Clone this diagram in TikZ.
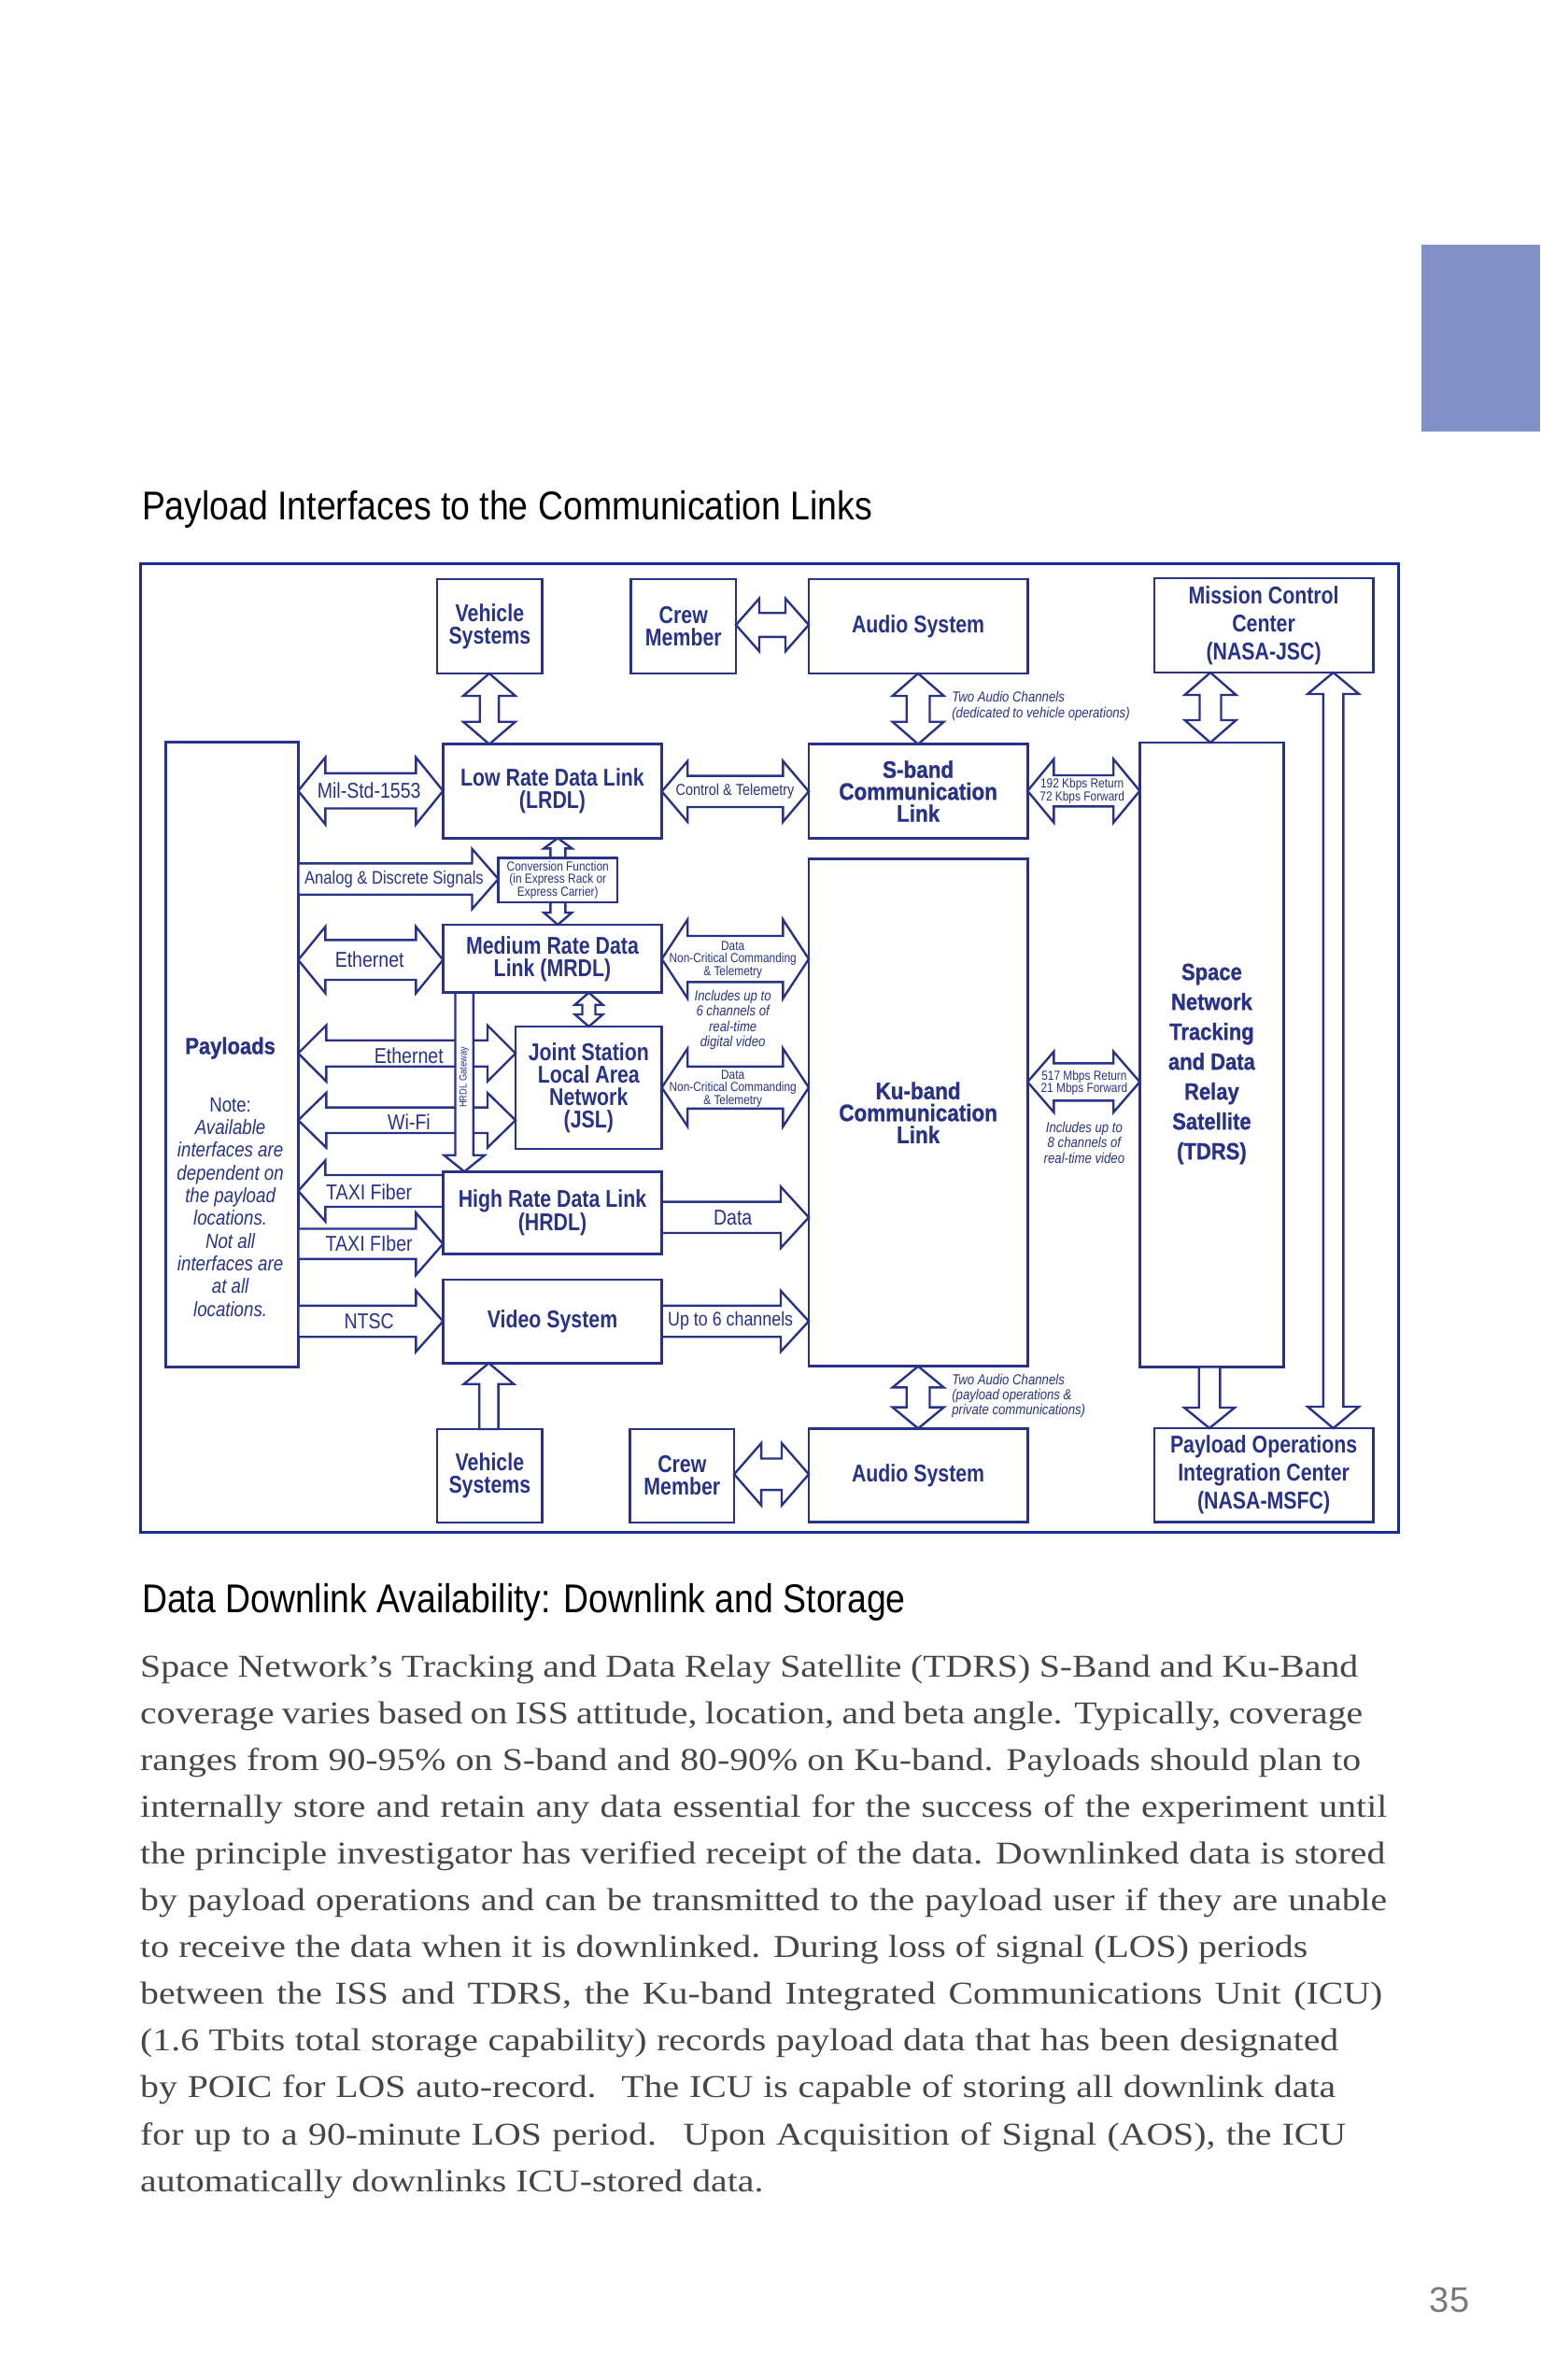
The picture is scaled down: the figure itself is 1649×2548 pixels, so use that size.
\documentclass[tikz,border=0pt]{standalone}
\usepackage{fontspec}
\usetikzlibrary{calc}
\setmainfont{Liberation Serif}
\newfontfamily\cnd[FakeStretch=0.85]{Liberation Sans}
\newfontfamily\cndb[FakeStretch=0.82]{Liberation Sans}
\newfontfamily\cndh[FakeStretch=0.88,FakeBold=1]{Liberation Sans}
\newfontfamily\hfont[FakeStretch=0.87]{Liberation Sans}
\newfontfamily\pfont[FakeStretch=1.17]{Liberation Serif}
\newfontfamily\pnfont{Liberation Sans}
\definecolor{navy}{RGB}{40,50,135}
\definecolor{framec}{RGB}{25,45,150}
\definecolor{purp}{RGB}{129,144,198}
\definecolor{ptext}{RGB}{70,70,70}
\definecolor{pnumc}{RGB}{120,120,120}
\tikzset{
  box/.style={draw=navy, line width=2.6pt, inner sep=0pt, outer sep=0pt, text=navy, align=center},
  barrow/.style={draw=navy, line width=2.4pt, fill=white, line join=miter},
  lbl/.style={text=navy, inner sep=0pt, align=center},
  bxf/.style={font=\cndb\bfseries\fontsize{26}{24}\selectfont},
  bxw/.style={font=\cndb\bfseries\fontsize{26}{30}\selectfont},
  hvf/.style={font=\cndh\bfseries\fontsize{25.5}{23.5}\selectfont},
  arl/.style={font=\cnd\fontsize{23}{24}\selectfont},
  tiny/.style={font=\cnd\fontsize{14}{13.5}\selectfont},
  itn/.style={font=\cnd\itshape\fontsize{15.5}{16.3}\selectfont},
  para/.style={anchor=base west, inner sep=0pt, text=ptext, font=\pfont\fontsize{34}{34}\selectfont}
}
% horizontal double arrow: left anchor, right anchor, y, shaft half, head half, head length
\newcommand{\HD}[6]{\draw[barrow] let \p1=(#1), \p2=(#2) in
 (\x1,-#3pt) -- (\x1+#6pt,-#3pt+#5pt) -- (\x1+#6pt,-#3pt+#4pt) -- (\x2-#6pt,-#3pt+#4pt) -- (\x2-#6pt,-#3pt+#5pt) -- (\x2,-#3pt) -- (\x2-#6pt,-#3pt-#5pt) -- (\x2-#6pt,-#3pt-#4pt) -- (\x1+#6pt,-#3pt-#4pt) -- (\x1+#6pt,-#3pt-#5pt) -- cycle;}
\newcommand{\HR}[6]{\draw[barrow] let \p1=(#1), \p2=(#2) in
 (\x1,-#3pt+#4pt) -- (\x2-#6pt,-#3pt+#4pt) -- (\x2-#6pt,-#3pt+#5pt) -- (\x2,-#3pt) -- (\x2-#6pt,-#3pt-#5pt) -- (\x2-#6pt,-#3pt-#4pt) -- (\x1,-#3pt-#4pt) -- cycle;}
\newcommand{\HL}[6]{\draw[barrow] let \p1=(#1), \p2=(#2) in
 (\x2,-#3pt+#4pt) -- (\x1+#6pt,-#3pt+#4pt) -- (\x1+#6pt,-#3pt+#5pt) -- (\x1,-#3pt) -- (\x1+#6pt,-#3pt-#5pt) -- (\x1+#6pt,-#3pt-#4pt) -- (\x2,-#3pt-#4pt) -- cycle;}
% vertical: top anchor, bottom anchor, x, shaft half, head half, head length
\newcommand{\VD}[6]{\draw[barrow] let \p1=(#1), \p2=(#2) in
 (#3pt,\y1) -- (#3pt+#5pt,\y1-#6pt) -- (#3pt+#4pt,\y1-#6pt) -- (#3pt+#4pt,\y2+#6pt) -- (#3pt+#5pt,\y2+#6pt) -- (#3pt,\y2) -- (#3pt-#5pt,\y2+#6pt) -- (#3pt-#4pt,\y2+#6pt) -- (#3pt-#4pt,\y1-#6pt) -- (#3pt-#5pt,\y1-#6pt) -- cycle;}
\newcommand{\VDn}[6]{\draw[barrow] let \p1=(#1), \p2=(#2) in
 (#3pt-#4pt,\y1) -- (#3pt-#4pt,\y2+#6pt) -- (#3pt-#5pt,\y2+#6pt) -- (#3pt,\y2) -- (#3pt+#5pt,\y2+#6pt) -- (#3pt+#4pt,\y2+#6pt) -- (#3pt+#4pt,\y1) -- cycle;}
\newcommand{\VUp}[6]{\draw[barrow] let \p1=(#1), \p2=(#2) in
 (#3pt-#4pt,\y2) -- (#3pt-#4pt,\y1-#6pt) -- (#3pt-#5pt,\y1-#6pt) -- (#3pt,\y1) -- (#3pt+#5pt,\y1-#6pt) -- (#3pt+#4pt,\y1-#6pt) -- (#3pt+#4pt,\y2) -- cycle;}
\begin{document}
\begin{tikzpicture}[x=1pt,y=1pt]
\useasboundingbox (0,0) rectangle (1649,-2548);
\fill[purp] (1522,-262) rectangle (1649,-461.7);
\node[anchor=base west, inner sep=0pt, font=\hfont\fontsize{43}{43}\selectfont] (h1) at (151.8,-556.7) {Payload Interfaces to the Communication Links};

% frame
\node[draw=framec, line width=3pt, inner sep=0pt, outer sep=0pt, minimum width=1347.2pt, minimum height=1037.4pt] (frame) at (824.3,-1122) {};

% boxes
\node[box,bxf,minimum width=112.5pt,minimum height=101pt] (vs1) at (524.35,-670.5) {Vehicle\\Systems};
\node[box,bxf,minimum width=112.4pt,minimum height=101pt] (cm1) at (731.8,-670.5) {Crew\\Member};
\node[box,bxf,minimum width=234.2pt,minimum height=101pt] (as1) at (983.1,-670.5) {Audio System};
\node[box,bxw,minimum width=234.2pt,minimum height=101pt] (mcc) at (1353.1,-669.5) {Mission Control\\Center\\(NASA-JSC)};
\node[box,bxf,minimum width=234.2pt,minimum height=100.6pt] (lrdl) at (591.5,-847) {Low Rate Data Link\\(LRDL)};
\node[box,hvf,minimum width=234.2pt,minimum height=100.6pt] (sband) at (983.1,-847) {S-band\\Communication\\Link};
\node[box,tiny,minimum width=127.4pt,minimum height=47.7pt] (conv) at (597.3,-942.15) {Conversion Function\\(in Express Rack or\\Express Carrier)};
\node[box,bxf,minimum width=234.2pt,minimum height=72.7pt] (mrdl) at (591.5,-1026.35) {Medium Rate Data\\Link (MRDL)};
\node[box,bxf,minimum width=156.6pt,minimum height=131pt] (jsl) at (630.3,-1164.5) {Joint Station\\Local Area\\Network\\(JSL)};
\node[box,bxf,minimum width=234.2pt,minimum height=88.4pt] (hrdl) at (591.5,-1298.5) {High Rate Data Link\\(HRDL)};
\node[box,bxf,minimum width=234.2pt,minimum height=89.3pt] (video) at (591.5,-1414.65) {Video System};
\node[box,minimum width=142pt,minimum height=668.6pt] (payloads) at (248.3,-1129) {};
\node[box,hvf,minimum width=234.2pt,minimum height=543.4pt] (ku) at (983.1,-1191) {Ku-band\\Communication\\Link};
\node[box,minimum width=153.9pt,minimum height=668.3pt] (tdrs) at (1297.35,-1129.15) {};
\node[box,bxf,minimum width=112.5pt,minimum height=100pt] (vs2) at (524.35,-1580) {Vehicle\\Systems};
\node[box,bxf,minimum width=111.5pt,minimum height=100pt] (cm2) at (730.35,-1580) {Crew\\Member};
\node[box,bxf,minimum width=234.2pt,minimum height=100pt] (as2) at (983.1,-1579.3) {Audio System};
\node[box,bxw,minimum width=234.2pt,minimum height=100.3pt] (poic) at (1353.1,-1579.15) {Payload Operations\\Integration Center\\(NASA-MSFC)};

% texts inside tall boxes
\node[lbl,font=\cndh\bfseries\fontsize{25}{25}\selectfont] (paylbl) at (246.6,-1122) {Payloads};
\node[lbl,font=\cnd\fontsize{22}{24}\selectfont] (notelbl) at (246.6,-1182.7) {Note:};
\node[lbl,font=\cnd\itshape\fontsize{22}{24.3}\selectfont] (notetxt) at (246.6,-1304) {Available\\interfaces are\\dependent on\\the payload\\locations.\\Not all\\interfaces are\\at all\\locations.};
\node[lbl,font=\cndh\bfseries\fontsize{25}{32}\selectfont] (tdrslbl) at (1297.4,-1139) {Space\\Network\\Tracking\\and Data\\Relay\\Satellite\\(TDRS)};

% vertical arrows
\VD{vs1.south}{lrdl.north}{523.9}{10.2}{27.9}{24}
\VD{as1.south}{sband.north}{983.1}{12.4}{27.5}{24}
\VD{mcc.south}{tdrs.north}{1296}{11.5}{27.5}{24}
\VD{mcc.south}{poic.north}{1427.6}{10.8}{27.5}{23}
\VUp{lrdl.south}{conv.north}{597.3}{8}{15}{11}
\VDn{conv.south}{mrdl.north}{597.3}{8}{15}{13}
\VD{mrdl.south}{jsl.north}{630.5}{7}{15}{13}
\VD{ku.south}{as2.north}{983.1}{12.4}{27.5}{22.7}
\VDn{tdrs.south}{poic.north}{1295}{11.3}{27}{22}
\VUp{video.south}{vs2.north}{523.4}{10.2}{26.7}{22.4}

% horizontal arrows
\HD{cm1.east}{as1.west}{669}{12.8}{28.3}{25}
\HD{payloads.east}{lrdl.west}{846.7}{18.8}{35.8}{29}
\HD{lrdl.east}{sband.west}{847.3}{16.7}{32.5}{27.6}
\HD{sband.east}{tdrs.west}{846.7}{16.7}{34}{28.2}
\HR{payloads.east}{conv.west}{941}{16.7}{32.2}{28.1}
\HD{payloads.east}{mrdl.west}{1027.7}{21.3}{35.5}{29}
\HD{mrdl.east}{ku.west}{1026.7}{24.7}{42.2}{27.6}
\HD{payloads.east}{jsl.west}{1127.7}{14}{30}{30}
\HD{payloads.east}{jsl.west}{1199.3}{13.7}{29.3}{30}
\HD{jsl.east}{ku.west}{1164.3}{22.5}{41.7}{27.6}
\HL{payloads.east}{hrdl.west}{1275}{17}{32.5}{29}
\HR{payloads.east}{hrdl.west}{1331.7}{16.2}{33.3}{29}
\HR{hrdl.east}{ku.west}{1303.3}{16.7}{32.8}{30}
\HR{payloads.east}{video.west}{1414.5}{16.7}{32.5}{29}
\HR{video.east}{ku.west}{1414.5}{16.7}{32.5}{30}
\HD{ku.east}{tdrs.west}{1158.3}{20}{32.5}{28.2}
\HD{cm2.east}{as2.west}{1578.3}{16.8}{33.3}{29}
% HRDL gateway on top
\VDn{mrdl.south}{hrdl.north}{497.2}{9.7}{21.8}{17.6}
\node[lbl,font=\cnd\fontsize{11}{11}\selectfont,rotate=90] (gw) at (496.8,-1153.3) {HRDL Gateway};

% arrow labels
\node[lbl,arl] (lmil) at (395.2,-846.7) {Mil-Std-1553};
\node[lbl,font=\cnd\fontsize{17}{17}\selectfont] (lctl) at (787,-847) {Control \& Telemetry};
\node[lbl,tiny] (lkbps) at (1158.7,-847) {192 Kbps Return\\72 Kbps Forward};
\node[lbl,itn,align=left,anchor=west] (laud1) at (1019.1,-756) {Two Audio Channels\\(dedicated to vehicle operations)};
\node[lbl,font=\cnd\fontsize{19.5}{20}\selectfont] (lana) at (422,-941) {Analog \& Discrete Signals};
\node[lbl,arl] (leth1) at (395.7,-1027.7) {Ethernet};
\node[lbl,tiny] (ldnc1) at (784.7,-1027.3) {Data\\Non-Critical Commanding\\\& Telemetry};
\node[lbl,itn] (linc6) at (784.7,-1092) {Includes up to\\6 channels of\\real-time\\digital video};
\node[lbl,arl,anchor=east] (leth2) at (475,-1130) {Ethernet};
\node[lbl,arl,anchor=east] (lwifi) at (461,-1201) {Wi-Fi};
\node[lbl,tiny] (ldnc2) at (784.7,-1165.5) {Data\\Non-Critical Commanding\\\& Telemetry};
\node[lbl,arl] (ltaxi1) at (395.2,-1276) {TAXI Fiber};
\node[lbl,arl] (ltaxi2) at (395.2,-1331.7) {TAXI FIber};
\node[lbl,arl] (ldata) at (784.7,-1304) {Data};
\node[lbl,arl] (lntsc) at (395.2,-1414.3) {NTSC};
\node[lbl,font=\cnd\fontsize{21}{21}\selectfont] (lup6) at (782.2,-1414.3) {Up to 6 channels};
\node[lbl,tiny] (lmbps) at (1160.9,-1159.4) {517 Mbps Return\\21 Mbps Forward};
\node[lbl,itn] (linc8) at (1160.9,-1223.3) {Includes up to\\8 channels of\\real-time video};
\node[lbl,itn,align=left,anchor=west] (laud2) at (1019.1,-1494.3) {Two Audio Channels\\(payload operations \&\\private communications)};

% second heading and paragraph
\node[anchor=base west, inner sep=0pt, font=\hfont\fontsize{43}{43}\selectfont] (h2) at (151.8,-1726.7) {Data Downlink Availability: Downlink and Storage};
\node[para] (p1) at (150,-1795) {\makebox[1304pt][s]{Space Network’s Tracking and Data Relay Satellite (TDRS) S-Band and Ku-Band}};
\node[para] (p2) at (150,-1845.1) {\makebox[1309pt][s]{coverage varies based on ISS attitude, location, and beta angle. Typically, coverage}};
\node[para] (p3) at (150,-1895.2) {\makebox[1307pt][s]{ranges from 90-95\% on S-band and 80-90\% on Ku-band. Payloads should plan to}};
\node[para] (p4) at (150,-1945.3) {\makebox[1335pt][s]{internally store and retain any data essential for the success of the experiment until}};
\node[para] (p5) at (150,-1995.4) {\makebox[1333pt][s]{the principle investigator has verified receipt of the data. Downlinked data is stored}};
\node[para] (p6) at (150,-2045.5) {\makebox[1335pt][s]{by payload operations and can be transmitted to the payload user if they are unable}};
\node[para] (p7) at (150,-2095.6) {\makebox[1250pt][s]{to receive the data when it is downlinked. During loss of signal (LOS) periods}};
\node[para] (p8) at (150,-2145.7) {\makebox[1330pt][s]{between the ISS and TDRS, the Ku-band Integrated Communications Unit (ICU)}};
\node[para] (p9) at (150,-2195.8) {\makebox[1283pt][s]{(1.6 Tbits total storage capability) records payload data that has been designated}};
\node[para] (p10) at (150,-2245.9) {\makebox[1280pt][s]{by POIC for LOS auto-record. \ The ICU is capable of storing all downlink data}};
\node[para] (p11) at (150,-2296) {\makebox[1291pt][s]{for up to a 90-minute LOS period. \ Upon Acquisition of Signal (AOS), the ICU}};
\node[para] (p12) at (150,-2346.1) {automatically downlinks ICU-stored data.};

\node[anchor=base, inner sep=0pt, text=pnumc, font=\pnfont\fontsize{38}{38}\selectfont] (pnum) at (1552,-2475) {35};
\end{tikzpicture}
\end{document}
